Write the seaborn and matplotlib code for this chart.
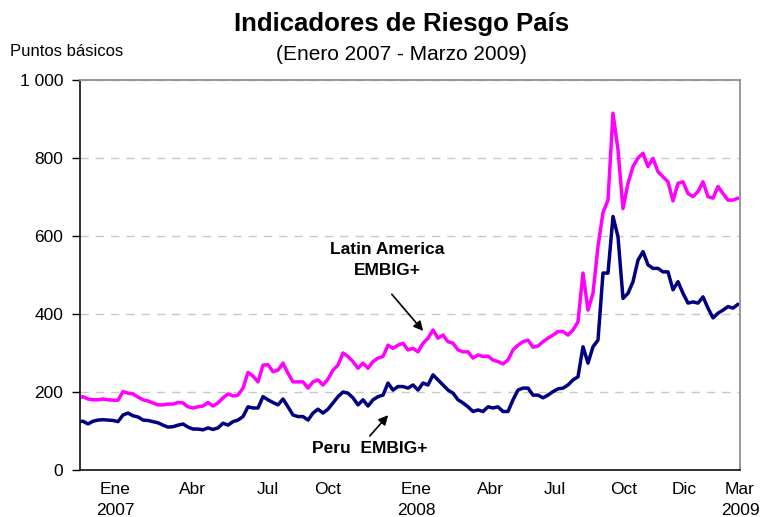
import numpy as np
import pandas as pd
import matplotlib
matplotlib.use("Agg")
import matplotlib.pyplot as plt
import seaborn as sns

# Spread (basis points), sampled roughly every 5 px of the original chart
latam = [185, 188, 182, 180, 180, 182, 180, 179, 179, 201, 197, 195, 187, 180, 177, 172, 167, 167, 169, 169, 173, 172, 162, 159, 162, 164, 173,
         164, 172, 185, 195, 190, 192, 210, 250, 241, 226, 269, 270, 252, 256, 274, 248, 226, 226, 226, 210, 226, 231, 218, 233,
         256, 269, 300, 291, 278, 261, 274, 261, 278, 287, 291, 320, 312, 320, 325, 308, 312, 303, 325, 338, 359, 338, 346, 329, 325, 308, 303,
         303, 287, 295, 291, 292, 282, 278, 272, 282, 308, 320, 329, 333, 315, 318, 329, 338, 346, 355, 355, 346, 359, 380,
         505, 410, 453, 573, 660, 692, 915, 821, 670, 735, 778, 800, 812, 778, 799, 765, 752,
         739, 690, 735, 739, 709, 701, 714, 739, 701, 697, 727, 709, 692, 692, 697]
peru = [124, 125, 118, 125, 128, 129, 128, 127, 124, 141, 146, 139, 136, 128, 127, 124, 121, 115, 110, 111, 115, 118, 110, 105, 105, 103, 108,
        104, 108, 120, 115, 124, 128, 137, 162, 159, 159, 188, 180, 173, 167, 182, 162, 141, 137, 137, 128, 146, 156, 146, 156,
        172, 188, 200, 197, 185, 167, 180, 164, 180, 188, 192, 223, 205, 214, 214, 210, 218, 205, 223, 218, 244, 231, 218, 205, 197, 180, 172,
        162, 150, 154, 150, 162, 159, 162, 150, 150, 180, 205, 210, 210, 192, 192, 185, 192, 201, 208, 210, 218, 231, 239,
        316, 274, 316, 333, 505, 505, 650, 598, 440, 453, 483, 538, 560, 526, 517, 517, 508,
        508, 462, 483, 453, 428, 431, 428, 444, 415, 390, 402, 410, 419, 415, 425]

month_labels = ["Ene\n2007", "Abr", "Jul", "Oct", "Ene\n2008", "Abr", "Jul", "Oct", "Dic", "Mar\n2009"]
month_pos = [7.4, 22.8, 38.0, 50.0, 67.6, 82.4, 95.4, 109.2, 121.2, 132.4]
y_ticks = [0, 200, 400, 600, 800, 1000]
y_tick_labels = ["0", "200", "400", "600", "800", "1 000"]

obs = np.arange(len(latam))
df = pd.DataFrame({"obs": obs, "Latin America EMBIG+": latam, "Peru EMBIG+": peru})
long = df.melt(id_vars="obs", var_name="serie", value_name="pb")

sns.set_style("white")
plt.rcParams["font.family"] = ["Liberation Sans", "DejaVu Sans"]
plt.rcParams["text.color"] = "black"
plt.rcParams["axes.labelcolor"] = "black"
plt.rcParams["xtick.color"] = "black"
plt.rcParams["ytick.color"] = "black"

fig = plt.figure(figsize=(7.65, 5.17), dpi=100)
ax = fig.add_axes([80 / 765, 1 - 470 / 517, 660 / 765, 390 / 517])

sns.lineplot(data=long, x="obs", y="pb", hue="serie",
             palette={"Latin America EMBIG+": "#FF00FF", "Peru EMBIG+": "#000080"},
             linewidth=2.5, legend=False, ax=ax)

ax.set_xlim(0.4, 132.4)
ax.set_ylim(0, 1000)
ax.set_yticks(y_ticks)
ax.set_yticklabels(y_tick_labels, fontsize=12.5, color="black")
ax.set_xticks(month_pos)
ax.set_xticklabels(month_labels, fontsize=12.5, linespacing=1.45, va="top", color="black")
ax.set_xlabel("")
ax.set_ylabel("")
ax.tick_params(axis="y", length=6, width=1, direction="out", pad=6, color="black", left=True)
ax.tick_params(axis="x", length=0, pad=9)

ax.yaxis.grid(True, linestyle=(0, (6, 5)), color="#c8c8c8", linewidth=1)
ax.xaxis.grid(False)
ax.set_axisbelow(True)

for side in ["left", "bottom"]:
    ax.spines[side].set_color("#202020")
    ax.spines[side].set_linewidth(1.3)
for side in ["top", "right"]:
    ax.spines[side].set_visible(True)
    ax.spines[side].set_color("#909090")
    ax.spines[side].set_linewidth(1.3)

fig.text(402 / 765, 1 - 24 / 517, "Indicadores de Riesgo País", ha="center", va="center",
         fontsize=18.5, fontweight="bold", color="black")
fig.text(401 / 765, 1 - 54 / 517, "(Enero 2007 - Marzo 2009)", ha="center", va="center",
         fontsize=15, color="black")
fig.text(10 / 765, 1 - 52 / 517, "Puntos básicos", ha="left", va="center", fontsize=12, color="black")

ax.text(61.8, 538, "Latin America\nEMBIG+", ha="center", va="center", fontsize=12.5,
        fontweight="bold", linespacing=1.45, color="black")
ax.annotate("", xy=(69.4, 351), xytext=(62.4, 456),
            arrowprops=dict(arrowstyle="-|>", color="black", lw=1.2, mutation_scale=14))
ax.text(58.4, 56, "Peru  EMBIG+", ha="center", va="center", fontsize=12.5, fontweight="bold",
        color="black")
ax.annotate("", xy=(62.4, 146), xytext=(58.0, 82),
            arrowprops=dict(arrowstyle="-|>", color="black", lw=1.2, mutation_scale=14))

fig.savefig("out.png", dpi=100)
